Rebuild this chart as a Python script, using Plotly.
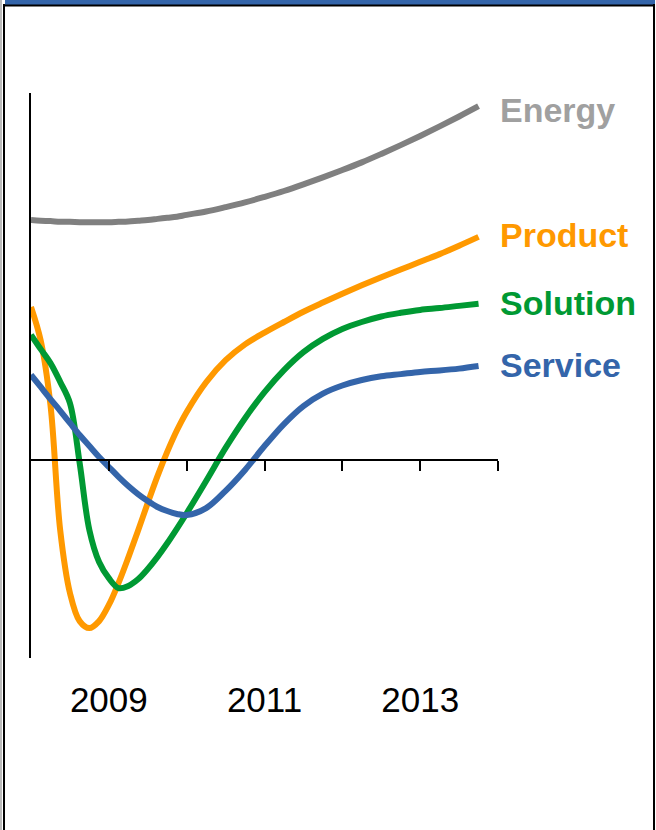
import plotly.graph_objects as go

# ---- data: half-quarterly 2008-2009, quarterly 2010.25-2013.75 ----
periods = [2008.0, 2008.125, 2008.25, 2008.375, 2008.5, 2008.625, 2008.75, 2008.875,
           2009.0, 2009.125, 2009.25, 2009.375, 2009.5, 2009.625, 2009.75, 2009.875,
           2010.0, 2010.25, 2010.5, 2010.75, 2011.0, 2011.25, 2011.5, 2011.75,
           2012.0, 2012.25, 2012.5, 2012.75, 2013.0, 2013.25, 2013.5, 2013.75]

energy = [6.54, 6.52, 6.51, 6.49, 6.49, 6.48, 6.48, 6.48, 6.48, 6.49, 6.50, 6.52, 6.54,
          6.57, 6.60, 6.63, 6.68, 6.77, 6.89, 7.02, 7.17, 7.33, 7.51, 7.70, 7.90, 8.11,
          8.34, 8.58, 8.83, 9.09, 9.36, 9.64]
product = [4.17, 3.25, 1.50, -1.91, -3.62, -4.39, -4.58, -4.39, -3.95, -3.35, -2.66, -1.93,
           -1.17, -0.44, 0.22, 0.81, 1.31, 2.12, 2.72, 3.15, 3.47, 3.76, 4.04, 4.29, 4.53,
           4.76, 4.98, 5.19, 5.40, 5.61, 5.84, 6.08]
solution = [3.41, 3.02, 2.64, 2.13, 1.55, -0.08, -1.91, -2.78, -3.22, -3.49, -3.43, -3.25,
            -2.97, -2.64, -2.27, -1.87, -1.45, -0.57, 0.33, 1.14, 1.85, 2.45, 2.94, 3.30,
            3.57, 3.76, 3.91, 4.01, 4.09, 4.14, 4.20, 4.26]
service = [2.32, 1.99, 1.66, 1.34, 1.01, 0.68, 0.38, 0.08, -0.19, -0.46, -0.71, -0.93,
           -1.12, -1.28, -1.39, -1.47, -1.50, -1.31, -0.84, -0.27, 0.38, 0.98, 1.47, 1.81,
           2.03, 2.18, 2.28, 2.34, 2.40, 2.44, 2.49, 2.56]

series_names = ["Energy", "Product", "Solution", "Service"]
tick_years = [2009, 2010, 2011, 2012, 2013, 2014]
label_years = [2009, 2011, 2013]
label_text = ["2009", "2011", "2013"]

# ---- styling ----
line_colors = {"Energy": "#808080", "Product": "#FF9900", "Solution": "#009933", "Service": "#3465AA"}
label_colors = {"Energy": "#A0A0A0", "Product": "#FF9900", "Solution": "#009933", "Service": "#3465AA"}
label_yshift = {"Energy": -4, "Product": 2, "Solution": 1, "Service": 1}
FONT = "Arial, Liberation Sans, sans-serif"

W, H = 656, 830
L, R, T, B = 31, 158, 93, 172
PW, PH = W - L - R, H - T - B


def fx(p):
    return (p - L) / PW


def fy(p):
    return (H - B - p) / PH


Y_RANGE = [-5.395, 10.0]
zero_pos = (0 - Y_RANGE[0]) / (Y_RANGE[1] - Y_RANGE[0])

fig = go.Figure()
data = {"Energy": energy, "Product": product, "Solution": solution, "Service": service}
for name in series_names:
    fig.add_trace(go.Scatter(
        x=periods, y=data[name], mode="lines", name=name,
        line=dict(color=line_colors[name], width=6, shape="spline", smoothing=1.0),
        showlegend=False, hoverinfo="skip"))
    fig.add_annotation(x=periods[-1], y=data[name][-1], text="<b>%s</b>" % name,
                       showarrow=False, xanchor="left", yanchor="middle", xshift=19,
                       yshift=label_yshift[name],
                       font=dict(family=FONT, size=34, color=label_colors[name]))

# dummy trace to carry the label axis
fig.add_trace(go.Scatter(x=[2008], y=[None], xaxis="x2", showlegend=False, hoverinfo="skip"))

shapes = [
    dict(type="rect", xref="paper", yref="paper", x0=fx(5), x1=fx(655), y0=fy(0), y1=fy(5),
         fillcolor="#3465AA", line=dict(width=0)),
    dict(type="line", xref="paper", yref="paper", x0=fx(3), x1=fx(655), y0=fy(5.5), y1=fy(5.5),
         line=dict(color="black", width=2)),
    dict(type="line", xref="paper", yref="paper", x0=fx(1), x1=fx(1), y0=fy(0), y1=fy(830),
         line=dict(color="#BBBBBB", width=2)),
    dict(type="line", xref="paper", yref="paper", x0=fx(4), x1=fx(4), y0=fy(4), y1=fy(830),
         line=dict(color="black", width=2)),
    dict(type="line", xref="paper", yref="paper", x0=fx(654), x1=fx(654), y0=fy(4), y1=fy(830),
         line=dict(color="black", width=2)),
]

fig.update_layout(
    template="none",
    width=W, height=H,
    margin=dict(l=L, r=R, t=T, b=B, pad=0),
    paper_bgcolor="white", plot_bgcolor="white",
    showlegend=False,
    shapes=shapes,
    xaxis=dict(range=[2008, 2014], anchor="free", position=zero_pos,
               showline=True, linecolor="black", linewidth=2,
               ticks="outside", ticklen=10, tickwidth=2, tickcolor="black",
               tickvals=tick_years, showticklabels=False,
               showgrid=False, zeroline=False, automargin=False),
    xaxis2=dict(range=[2008, 2014], overlaying="x", anchor="y", side="bottom",
                showline=False, ticks="", tickvals=label_years, ticktext=label_text,
                tickfont=dict(family=FONT, size=35, color="black"),
                ticklabelstandoff=18,
                showgrid=False, zeroline=False, automargin=False),
    yaxis=dict(range=Y_RANGE, showline=True, linecolor="black", linewidth=2,
               ticks="", showticklabels=False, showgrid=False, zeroline=False,
               automargin=False),
)

fig.write_html("out.html", config={"displayModeBar": False},
               post_script="document.body.style.margin='0px';")
